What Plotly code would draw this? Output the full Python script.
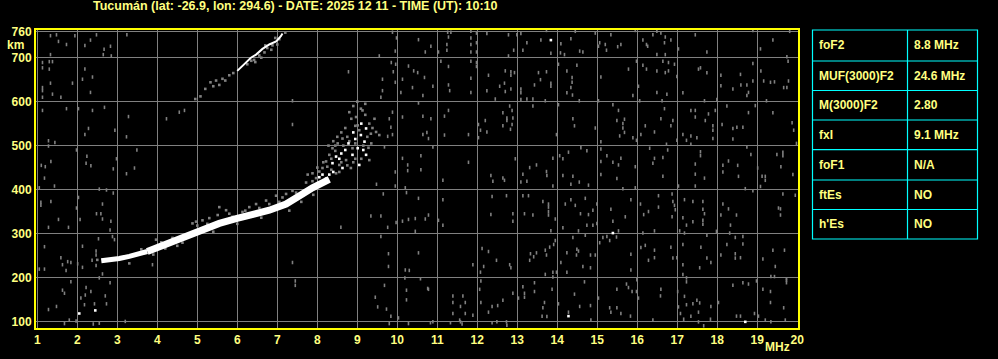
import plotly.graph_objects as go

TITLE = "Tucumán (lat: -26.9, lon: 294.6) - DATE: 2025 12 11 - TIME (UT): 10:10"
X_TICKS = list(range(1, 21))
Y_TICKS = [100, 200, 300, 400, 500, 600, 700, 760]
TABLE_PARAMS = ["foF2", "MUF(3000)F2", "M(3000)F2", "fxI", "foF1", "ftEs", "h'Es"]
TABLE_VALUES = ["8.8 MHz", "24.6 MHz", "2.80", "9.1 MHz", "N/A", "NO", "NO"]

# Main F2 trace (o-mode), centre line (MHz, km)
F2_FREQ = [2.6, 2.8, 3.05, 3.3, 3.5, 3.75, 4.0, 4.3, 4.72, 5.13, 5.55, 5.97, 6.38, 6.8, 7.22, 7.47, 7.63, 7.88, 8.13, 8.3]
F2_KM = [238, 239, 243, 248, 252, 259, 268, 280, 297, 312, 323, 334, 343, 353, 367, 379, 390, 404, 414, 423]

# Gray fringe echoes around the F2 trace
F2_FRINGE = [(4.97, 327), (5.13, 330), (5.55, 360), (5.72, 353), (6.13, 349), (6.47, 367), (6.72, 375),
             (6.97, 386), (7.22, 390), (7.47, 393), (4.88, 323), (3.97, 286), (4.38, 290), (4.63, 279),
             (5.51, 342), (5.88, 338), (6.3, 360), (6.8, 367), (7.13, 382), (7.38, 397), (7.72, 416), (7.88, 419),
             (5.3, 335), (5.0, 318), (6.55, 358), (7.05, 372), (3.3, 232), (3.9, 252), (4.5, 272),
             (5.4, 304), (6.0, 322), (6.6, 336), (7.3, 352), (7.9, 388), (2.5, 240), (4.2, 266), (5.8, 345),
             (6.2, 352), (4.1, 280), (3.6, 264), (5.25, 322), (7.6, 372)]

# Spread-F cloud near the critical frequency
SPREAD_WHITE = [(9.22, 539), (9.09, 524), (9.18, 509), (8.78, 505), (8.47, 475), (8.38, 460), (8.88, 479),
                (9.01, 494), (9.22, 479), (9.05, 456), (8.63, 449), (8.13, 434), (8.3, 434), (8.22, 425),
                (9.1, 550), (8.95, 515), (8.55, 470), (8.7, 490), (8.4, 440), (8.05, 428), (8.9, 530),
                (9.15, 490), (8.6, 482)]
SPREAD_GRAY = [(8.8, 576), (8.85, 561), (9.09, 584), (9.13, 580), (8.97, 565), (9.01, 546), (9.3, 550),
               (9.43, 561), (9.47, 531), (9.55, 524), (9.34, 527), (8.63, 516), (8.88, 494), (8.51, 505),
               (8.38, 494), (8.3, 479), (8.22, 464), (8.55, 456), (8.72, 467), (9.3, 467), (8.84, 449),
               (8.13, 449), (8.05, 441), (7.88, 437), (7.76, 434), (8.47, 437), (7.97, 426), (8.6, 530),
               (8.7, 540), (9.2, 570), (9.05, 535), (8.9, 462), (8.45, 488), (9.15, 500), (8.35, 445),
               (8.75, 520), (8.5, 520), (8.45, 500), (8.65, 500), (8.8, 510), (8.95, 505), (9.25, 520),
               (9.35, 505), (9.1, 470), (8.75, 455), (8.55, 440), (8.25, 452), (8.15, 462), (8.35, 470),
               (8.95, 545), (9.2, 595), (9.0, 600), (8.9, 590), (9.38, 540), (9.28, 495), (8.28, 500),
               (8.6, 462), (8.95, 470), (8.0, 450), (8.4, 510)]

# Second-hop F2 trace
HOP2_FREQ = [6.0, 6.17, 6.34, 6.47, 6.63, 6.8, 6.97, 7.09, 7.13]
HOP2_KM = [670, 685, 700, 707, 720, 730, 737, 749, 755]
HOP2_GRAY = [(4.95, 606), (5.08, 612), (5.2, 629), (5.33, 644), (5.4, 635), (5.47, 648), (5.55, 638),
             (5.63, 652), (5.7, 648), (5.8, 660), (5.9, 665), (6.25, 685), (6.42, 695), (6.55, 705),
             (6.68, 712), (6.75, 722), (6.88, 728), (6.95, 745), (7.05, 742), (7.2, 757), (6.6, 700),
             (6.45, 690), (6.35, 693), (6.7, 728), (6.85, 718), (7.0, 730)]

# Background noise echoes (MHz, km)
NOISE_A = [(1.33, 750), (1.48, 752), (1.94, 750), (1.53, 737), (1.73, 730), (2.48, 752), (2.33, 740),
           (2.19, 728), (2.67, 719), (2.83, 726), (2.65, 707), (2.85, 704), (3.24, 752), (1.33, 707),
           (1.13, 689), (1.3, 691), (1.38, 691), (1.13, 677), (1.3, 674), (2.19, 674), (2.13, 651),
           (2.38, 656), (1.88, 642), (1.33, 642), (1.13, 632), (1.13, 625), (1.13, 610), (1.38, 617),
           (1.59, 610), (2.33, 621), (1.13, 580), (1.73, 584), (2.03, 584), (2.38, 580), (2.68, 587),
           (3.28, 566), (2.94, 535), (2.28, 539), (2.19, 525), (3.23, 520), (4.23, 561), (4.55, 576),
           (4.68, 580), (1.28, 511), (1.44, 507), (1.28, 499), (1.98, 490), (2.24, 476), (2.98, 470),
           (2.22, 460), (1.34, 464), (1.1, 455), (1.2, 452), (2.34, 454), (2.9, 447), (3.23, 436),
           (3.43, 449), (3.49, 490), (1.18, 426), (9.88, 758), (9.98, 745), (9.95, 715), (9.55, 704),
           (9.85, 689), (9.96, 685), (9.9, 668), (10.28, 681), (10.41, 670), (10.13, 651), (9.63, 651),
           (9.95, 644), (10.38, 632), (10.09, 621), (9.63, 625), (9.59, 610), (8.78, 668), (7.38, 602),
           (7.38, 548), (9.88, 576), (9.8, 561), (10.13, 565), (9.84, 542), (9.88, 525), (9.76, 521),
           (9.68, 497), (10.13, 471), (10.26, 456), (9.95, 440), (10.26, 443)]
NOISE_B = [(1.05, 404), (1.43, 408), (2.55, 401), (2.73, 399), (2.9, 392), (2.03, 382), (1.09, 371),
           (1.34, 373), (1.09, 364), (2.63, 367), (1.98, 358), (2.48, 345), (2.59, 345), (1.53, 332),
           (2.07, 332), (2.63, 333), (2.84, 328), (1.28, 314), (1.78, 314), (2.82, 308), (2.53, 288),
           (2.93, 286), (2.88, 293), (2.13, 271), (1.18, 270), (2.47, 260), (2.47, 251), (1.59, 245),
           (2.37, 239), (1.76, 236), (1.63, 229), (1.84, 234), (2.01, 231), (2.13, 223), (2.47, 227),
           (1.05, 219), (1.18, 219), (1.72, 216), (2.63, 208), (2.55, 199), (1.84, 190), (2.82, 188),
           (1.63, 171), (2.22, 177), (2.34, 168), (1.68, 164), (2.2, 160), (2.7, 158), (2.09, 153),
           (2.73, 140), (2.43, 140), (2.18, 138), (1.48, 134), (1.28, 127), (1.97, 101), (1.68, 95),
           (1.8, 103), (3.2, 100), (3.88, 229), (7.38, 234), (7.45, 192), (7.45, 182), (8.59, 314),
           (9.48, 412), (9.95, 408), (10.2, 404), (10.23, 393), (9.65, 390), (9.34, 340), (9.59, 340),
           (9.76, 314), (9.97, 325), (10.13, 328), (10.28, 332), (10.45, 334), (10.45, 305), (9.59, 293),
           (9.78, 254), (9.78, 225), (10.2, 217), (10.3, 216), (10.19, 199), (9.68, 182), (10.23, 171),
           (9.45, 155), (10.23, 149), (9.51, 133), (9.73, 128), (9.84, 112), (10.03, 108), (9.8, 95),
           (10.28, 95), (2.4, 94), (2.55, 96)]
NOISE_C = [(10.53, 741), (10.7, 713), (10.84, 726), (11.26, 758), (11.28, 747), (11.34, 758), (11.24, 730),
           (11.24, 717), (11.03, 713), (11.84, 760), (11.84, 745), (11.98, 756), (11.98, 734), (11.84, 730),
           (11.84, 713), (11.98, 713), (12.24, 755), (12.78, 752), (12.99, 752), (12.91, 717), (12.78, 704),
           (13.09, 755), (13.24, 734), (13.14, 717), (13.59, 740), (13.73, 762), (13.84, 710), (14.09, 732),
           (14.18, 707), (14.08, 711), (14.45, 760), (14.34, 743), (14.56, 715), (14.64, 713), (14.95, 756),
           (15.06, 734), (15.03, 726), (15.2, 730), (15.23, 717), (15.34, 752), (15.51, 725), (15.59, 730),
           (15.95, 762), (16.14, 740), (16.23, 730), (16.26, 726), (16.39, 752), (16.49, 760), (16.59, 756),
           (16.7, 747), (16.68, 734), (16.84, 740), (16.49, 707), (16.7, 707), (17.03, 720), (17.45, 752),
           (17.74, 713), (18.89, 762), (19.39, 740), (19.08, 720), (19.81, 760), (19.74, 702), (19.77, 692),
           (10.51, 666), (10.68, 655), (10.64, 614), (10.89, 635), (11.09, 692), (11.28, 680), (11.28, 638),
           (11.31, 625), (11.84, 692), (11.84, 653), (11.84, 621), (11.98, 689), (11.98, 680), (12.28, 660),
           (12.24, 625), (12.56, 635), (12.68, 642), (12.7, 623), (12.7, 670), (12.84, 668), (12.84, 660),
           (12.93, 666), (12.84, 629), (12.45, 606), (13.09, 629), (13.09, 620), (13.24, 606), (13.39, 606),
           (13.09, 605), (13.53, 666), (13.58, 650), (13.43, 638), (13.73, 668), (13.84, 642), (13.84, 635),
           (13.7, 602), (14.03, 685), (14.24, 670), (14.37, 655), (14.37, 644), (14.34, 632), (14.49, 683),
           (14.24, 620), (14.38, 615), (14.55, 602), (15.03, 602), (15.09, 656), (15.78, 674), (15.89, 614),
           (15.98, 692), (16.14, 683), (16.23, 674), (16.49, 670), (16.64, 692), (16.7, 666), (16.78, 670),
           (16.78, 689), (16.93, 685), (16.99, 657), (16.03, 635), (16.06, 602), (16.49, 621), (16.74, 617),
           (16.62, 602), (17.14, 620), (17.58, 677), (17.53, 674), (17.74, 666), (18.09, 660), (18.09, 636),
           (18.39, 629), (18.58, 662), (18.59, 638), (18.74, 638), (18.78, 621), (18.74, 614), (18.89, 687),
           (18.89, 647), (19.09, 670), (19.16, 647), (19.33, 644), (19.43, 645), (19.66, 632), (19.74, 632),
           (19.78, 647), (19.23, 602), (17.68, 602), (17.99, 605)]
NOISE_D = [(10.53, 597), (10.64, 567), (10.84, 561), (10.74, 530), (10.64, 525), (10.78, 516), (11.18, 567),
           (11.18, 524), (11.28, 580), (11.78, 525), (12.03, 548), (12.03, 518), (12.2, 557), (12.08, 535),
           (12.24, 531), (12.64, 575), (12.74, 563), (12.74, 557), (12.87, 580), (12.89, 563), (12.87, 548),
           (12.83, 537), (12.64, 545), (12.81, 590), (13.39, 590), (13.98, 525), (14.03, 593), (14.39, 561),
           (14.43, 545), (14.95, 540), (15.09, 509), (15.39, 593), (15.53, 580), (15.49, 557), (15.68, 560),
           (15.64, 550), (15.64, 540), (15.56, 522), (15.68, 530), (15.89, 518), (15.98, 512), (16.09, 525),
           (16.2, 545), (16.43, 531), (16.59, 561), (16.68, 584), (16.73, 503), (16.84, 545), (16.89, 557),
           (16.99, 512), (17.14, 525), (17.23, 512), (17.34, 580), (17.45, 580), (17.45, 565), (17.34, 522),
           (17.49, 518), (17.34, 503), (17.7, 557), (17.78, 572), (17.89, 545), (17.89, 535), (17.89, 516),
           (17.95, 580), (18.24, 590), (18.12, 548), (18.39, 539), (18.49, 542), (18.64, 542), (18.39, 515),
           (18.78, 575), (18.95, 591), (19.39, 575), (19.87, 552), (19.91, 535), (19.98, 505), (10.59, 477),
           (10.59, 445), (10.89, 497), (11.78, 462), (12.34, 432), (12.64, 426), (12.95, 470), (13.14, 435),
           (13.31, 450), (13.48, 456), (13.73, 441), (13.74, 432), (13.89, 471), (14.06, 477), (14.14, 470),
           (14.14, 432), (14.28, 485), (14.39, 430), (14.59, 495), (14.74, 488), (15.09, 492), (15.09, 464),
           (15.09, 434), (15.24, 477), (15.39, 462), (15.53, 456), (15.59, 471), (15.49, 425), (15.95, 452),
           (16.31, 494), (16.43, 471), (16.39, 460), (16.64, 473), (16.64, 430), (16.76, 490), (17.45, 458),
           (17.45, 435), (17.58, 486), (17.58, 477), (17.68, 426), (18.14, 455), (18.14, 440), (18.28, 465),
           (18.51, 455), (18.53, 430), (18.74, 497), (18.84, 480), (19.01, 449), (19.12, 430), (19.2, 430),
           (19.49, 480), (19.64, 485), (19.64, 477), (19.59, 452), (19.89, 434)]
NOISE_E = [(11.14, 421), (12.39, 419), (12.68, 421), (13.09, 417), (13.24, 419), (13.89, 408), (14.34, 412),
           (14.55, 417), (14.78, 410), (15.64, 402), (15.95, 404), (17.03, 408), (17.45, 408), (18.7, 402),
           (18.89, 397), (19.08, 407), (19.2, 421), (19.95, 387), (19.64, 390), (10.53, 380), (11.14, 377),
           (12.37, 384), (12.73, 386), (13.14, 386), (13.28, 386), (13.64, 373), (13.78, 367), (13.78, 360),
           (13.78, 350), (13.78, 342), (14.2, 367), (14.34, 377), (14.45, 364), (14.7, 380), (14.89, 353),
           (14.58, 345), (14.78, 343), (14.99, 367), (15.34, 355), (15.84, 377), (16.08, 367), (16.53, 386),
           (16.53, 360), (16.87, 390), (16.89, 373), (16.93, 364), (16.95, 354), (16.87, 338), (17.18, 377),
           (17.39, 373), (17.64, 373), (17.64, 355), (17.68, 345), (17.64, 330), (17.64, 321), (17.23, 319),
           (17.39, 327), (17.14, 336), (18.14, 367), (18.28, 356), (18.48, 342), (18.09, 342), (19.58, 356),
           (19.58, 342), (19.53, 358), (10.7, 333), (10.78, 342), (11.14, 319), (11.03, 330), (12.34, 343),
           (12.89, 345), (12.89, 328), (13.18, 345), (13.39, 342), (13.95, 333), (13.84, 306), (14.14, 313),
           (14.53, 306), (14.74, 319), (14.89, 319), (14.99, 323), (15.39, 328), (15.53, 306), (15.7, 338),
           (16.16, 343), (16.28, 350), (16.43, 306), (16.14, 301), (17.06, 306), (17.18, 301), (18.33, 319),
           (18.31, 301), (17.74, 296), (17.98, 305), (15.24, 293), (15.48, 292), (15.14, 291), (15.31, 284),
           (14.39, 291), (14.7, 296), (13.95, 284), (13.91, 275), (13.81, 269), (13.7, 262), (13.48, 256),
           (13.33, 254), (13.41, 247), (13.31, 239), (13.73, 251), (14.24, 256), (14.49, 264), (14.53, 260),
           (14.48, 251), (14.09, 234), (14.64, 225), (14.83, 222), (14.83, 251), (14.95, 251), (15.06, 279),
           (15.84, 253), (15.84, 217), (16.09, 268), (16.2, 273), (16.28, 239), (16.43, 245), (16.43, 262),
           (16.84, 269), (16.89, 244), (16.99, 245), (17.14, 275), (17.14, 229), (17.14, 207), (17.59, 269),
           (17.74, 244), (17.84, 234), (17.56, 222), (18.24, 275), (18.45, 291), (18.64, 293), (18.64, 276),
           (18.45, 254), (18.45, 244), (18.58, 245), (18.09, 251), (19.14, 242), (19.39, 262), (19.68, 262),
           (19.45, 225), (19.34, 202), (19.43, 202), (19.73, 194), (12.28, 259), (12.12, 266), (12.16, 225),
           (12.48, 239), (12.81, 229), (12.84, 222), (11.89, 229), (12.08, 212), (13.7, 207), (13.89, 212),
           (13.89, 201), (13.98, 212), (14.24, 212), (10.53, 256)]
NOISE_F = [(10.58, 197), (10.76, 175), (10.78, 173), (11.39, 158), (11.64, 158), (11.7, 143), (11.39, 143),
           (11.58, 134), (11.39, 118), (11.56, 103), (11.7, 118), (11.89, 114), (12.09, 192), (12.06, 173),
           (12.09, 143), (12.37, 134), (12.28, 121), (12.51, 136), (12.64, 148), (12.49, 99), (12.37, 97),
           (12.73, 99), (12.74, 91), (12.89, 164), (13.03, 153), (13.14, 179), (13.18, 164), (13.18, 155),
           (13.43, 188), (13.43, 168), (13.68, 143), (13.64, 131), (13.62, 112), (13.87, 173), (13.74, 111),
           (14.03, 140), (14.43, 162), (14.28, 121), (14.56, 134), (14.84, 103), (14.83, 136), (14.68, 190),
           (15.03, 153), (15.49, 173), (15.73, 185), (15.78, 177), (15.87, 168), (15.98, 168), (15.99, 195),
           (16.03, 153), (15.31, 131), (15.34, 121), (15.49, 131), (15.59, 118), (15.83, 112), (16.39, 103),
           (16.59, 173), (16.58, 158), (17.01, 168), (17.03, 133), (17.08, 118), (17.16, 105), (17.23, 199),
           (17.23, 190), (17.18, 157), (17.23, 138), (17.39, 140), (17.49, 148), (17.53, 121), (17.56, 142),
           (17.34, 112), (17.53, 99), (17.66, 90), (17.83, 105), (17.84, 134), (18.03, 143), (18.39, 182),
           (18.64, 188), (18.78, 185), (18.98, 192), (19.14, 173), (19.33, 168), (19.33, 143), (19.66, 131),
           (19.73, 197), (19.73, 188), (18.93, 118), (18.48, 112), (18.58, 112), (19.03, 112), (19.2, 103),
           (19.34, 99), (19.7, 103), (10.83, 97), (10.89, 99), (11.33, 97), (11.58, 99), (11.62, 94)]
NOISE_WHITE = [(2.05, 118), (2.45, 125), (13.84, 740), (15.39, 301), (14.28, 112), (18.7, 99)]

GRAY = "#808080"
YEL_TEXT = "#ffff80"
YEL_FRAME = "#ffff00"
CYAN = "#00ffff"
FONT = "Liberation Sans, Arial, sans-serif"


def unzip(pairs):
    return [p[0] for p in pairs], [p[1] for p in pairs]


fig = go.Figure()

noise = NOISE_A + NOISE_B + NOISE_C + NOISE_D + NOISE_E + NOISE_F
nx, ny = unzip(noise)
fig.add_trace(go.Scatter(x=nx, y=ny, mode="markers",
                         marker=dict(symbol="line-ns", size=2.5, color=GRAY,
                                     line=dict(width=1.6, color=GRAY)),
                         hoverinfo="skip"))

for pairs in (F2_FRINGE, SPREAD_GRAY, HOP2_GRAY):
    px, py = unzip(pairs)
    fig.add_trace(go.Scatter(x=px, y=py, mode="markers",
                             marker=dict(symbol="square", size=2.6, color=GRAY, line=dict(width=0)),
                             hoverinfo="skip"))

# thinner start of the trace, thicker body
fig.add_trace(go.Scatter(x=F2_FREQ[:6], y=F2_KM[:6], mode="lines",
                         line=dict(color="white", width=5), hoverinfo="skip"))
fig.add_trace(go.Scatter(x=F2_FREQ[5:], y=F2_KM[5:], mode="lines",
                         line=dict(color="white", width=7), hoverinfo="skip"))
fig.add_trace(go.Scatter(x=HOP2_FREQ, y=HOP2_KM, mode="lines",
                         line=dict(color="white", width=2), hoverinfo="skip"))

wx, wy = unzip(SPREAD_WHITE + NOISE_WHITE)
fig.add_trace(go.Scatter(x=wx, y=wy, mode="markers",
                         marker=dict(symbol="square", size=2.6, color="white", line=dict(width=0)),
                         hoverinfo="skip"))

tick_font = dict(family=FONT, size=12, color=YEL_TEXT)

fig.update_xaxes(range=[0.968, 20.018], tickvals=X_TICKS, ticktext=["<b>%d</b>" % v for v in X_TICKS],
                 showgrid=True, gridcolor=GRAY, gridwidth=1, zeroline=False,
                 showline=True, linecolor=YEL_FRAME, linewidth=2, mirror=True,
                 ticks="", tickfont=tick_font)
fig.update_yaxes(range=[85, 763], tickvals=Y_TICKS, ticktext=["<b>%d</b>" % v for v in Y_TICKS],
                 showgrid=True, gridcolor=GRAY, gridwidth=1, zeroline=False,
                 showline=True, linecolor=YEL_FRAME, linewidth=2, mirror=True,
                 ticks="", tickfont=tick_font)

L, R, T, B = 36, 200, 30, 26
W, H = 998, 359
pw, ph = W - L - R, H - T - B


def px2x(p):
    return (p - L) / pw


def py2y(p):
    return (H - B - p) / ph


def bold(s):
    return "<b>" + s + "</b>"


annotations = []
annotations.append(dict(text=bold(TITLE), x=px2x(91), y=py2y(6), xref="paper", yref="paper",
                        xanchor="left", yanchor="middle", showarrow=False,
                        font=dict(family=FONT, size=12.5, color=YEL_TEXT)))
annotations.append(dict(text=bold("km"), x=px2x(5), y=py2y(45), xref="paper", yref="paper",
                        xanchor="left", yanchor="middle", showarrow=False,
                        font=dict(family=FONT, size=12, color=YEL_TEXT)))
annotations.append(dict(text=bold("MHz"), x=px2x(792), y=py2y(352), xref="paper", yref="paper",
                        xanchor="right", yanchor="middle", showarrow=False,
                        font=dict(family=FONT, size=12, color=YEL_TEXT)))

# Parameter table
row_edges = [30, 61.5, 91.5, 121.5, 151.7, 182.5, 212.5, 242.5]
tx0, tx1, tx2 = 812.5, 907.5, 977.5
shapes = []
shapes.append(dict(type="rect", xref="paper", yref="paper", x0=px2x(tx0), x1=px2x(tx2),
                   y0=py2y(row_edges[0]), y1=py2y(row_edges[-1]), line=dict(color=CYAN, width=1.2)))
shapes.append(dict(type="line", xref="paper", yref="paper", x0=px2x(tx1), x1=px2x(tx1),
                   y0=py2y(row_edges[0]), y1=py2y(row_edges[-1]), line=dict(color=CYAN, width=1.2)))
for e in row_edges[1:-1]:
    shapes.append(dict(type="line", xref="paper", yref="paper", x0=px2x(tx0), x1=px2x(tx2),
                       y0=py2y(e), y1=py2y(e), line=dict(color=CYAN, width=1.2)))
for i, (p, v) in enumerate(zip(TABLE_PARAMS, TABLE_VALUES)):
    yc = (row_edges[i] + row_edges[i + 1]) / 2
    annotations.append(dict(text=bold(p), x=px2x(817), y=py2y(yc), xref="paper", yref="paper",
                            xanchor="left", yanchor="middle", showarrow=False,
                            font=dict(family=FONT, size=12, color=YEL_TEXT)))
    annotations.append(dict(text=bold(v), x=px2x(912), y=py2y(yc), xref="paper", yref="paper",
                            xanchor="left", yanchor="middle", showarrow=False,
                            font=dict(family=FONT, size=12, color=YEL_TEXT)))

fig.update_layout(width=W, height=H, margin=dict(l=L, r=R, t=T, b=B),
                  paper_bgcolor="black", plot_bgcolor="black", showlegend=False,
                  hovermode=False, annotations=annotations, shapes=shapes)

fig.write_html("out.html", config={"displayModeBar": False})
